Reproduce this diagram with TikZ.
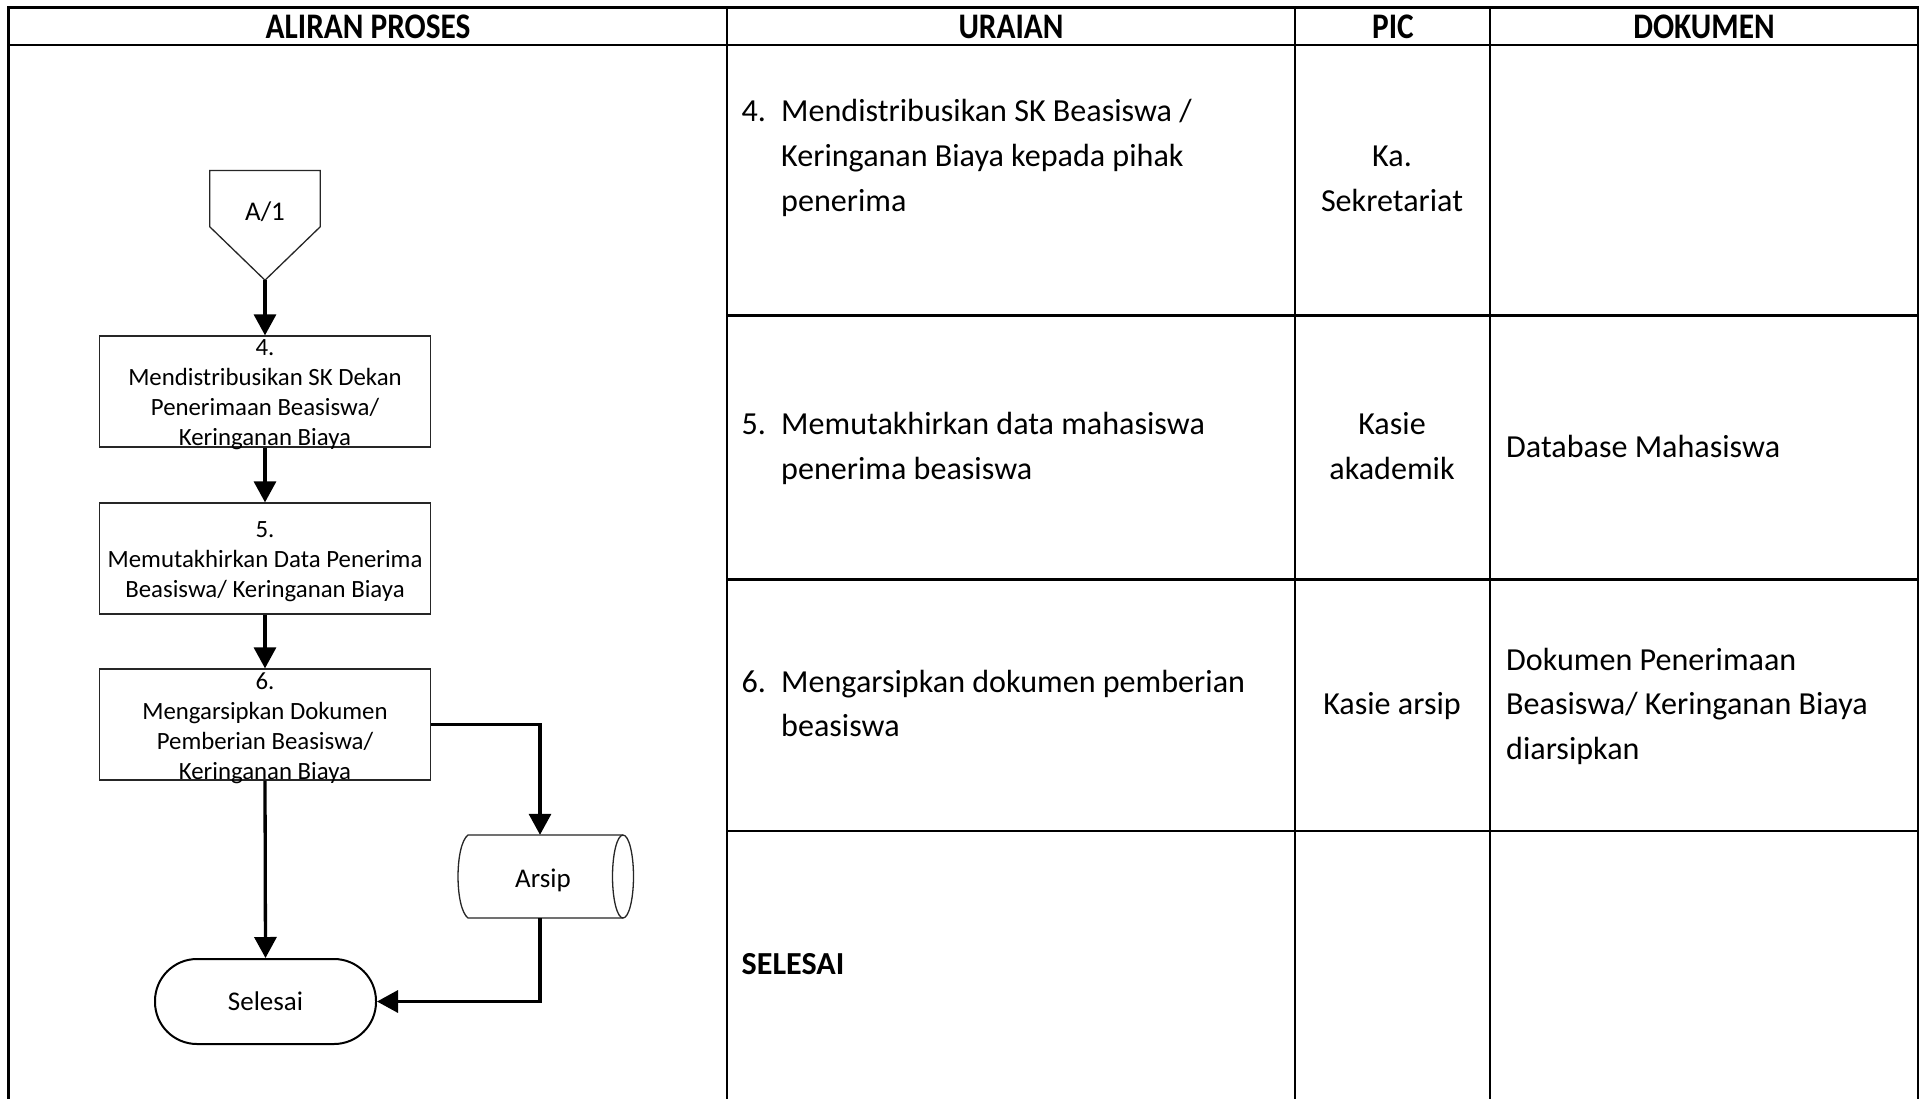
\documentclass[tikz,border=0pt]{standalone}
\usepackage{fontspec}
\setmainfont{Carlito}
\newfontfamily\hdfam{Carlito}[FakeStretch=0.87]
\usetikzlibrary{arrows.meta,calc}
\newcommand\mybody{\fontsize{32.1}{44.5}\selectfont}
\newcommand\myhead{\hdfam\fontsize{36}{40}\selectfont\bfseries}
\newcommand\mybox{\fontsize{24.8}{30}\selectfont}
\newcommand\mysym{\fontsize{27}{32}\selectfont}
\tikzset{
  tbl/.style={line width=2.6pt, line cap=rect},
  hd/.style={font=\myhead, anchor=mid, inner sep=0pt},
  bt/.style={font=\mybody, anchor=mid west, inner sep=0pt},
  bc/.style={font=\mybody, anchor=mid, inner sep=0pt},
  ft/.style={font=\mybox, align=center, inner sep=0pt},
  proc/.style={draw=black!85, line width=1.3pt, minimum width=330.5pt, minimum height=111pt, inner sep=0pt},
  term/.style={draw=black, line width=2pt, rounded corners=42pt, minimum width=221pt, minimum height=85pt, inner sep=0pt, font=\mysym},
  shp/.style={draw=black!85, line width=1.3pt},
  flow/.style={line width=3.3pt, -{Triangle[width=22pt,length=21pt]}},
}
\begin{document}
\begin{tikzpicture}[x=1pt,y=-1pt]
\useasboundingbox (0,0) rectangle (1925,1098);
\fill[white] (0,0) rectangle (1925,1098);

% table
\draw[tbl] (8.5,1098) -- (8.5,7.5) -- (1918,7.5) -- (1918,1098);
\draw[tbl] (8.5,45) -- (1918,45);
\draw[tbl] (727,7.5) -- (727,1098);
\draw[tbl] (1295,7.5) -- (1295,1098);
\draw[tbl] (1490,7.5) -- (1490,1098);
\draw[tbl] (727,315.5) -- (1918,315.5);
\draw[tbl] (727,579.5) -- (1918,579.5);
\draw[tbl] (727,831) -- (1918,831);

% headers
\node[hd] (h1) at (368,36.5) {ALIRAN PROSES};
\node[hd] (h2) at (1011,36.5) {URAIAN};
\node[hd] (h3) at (1393,36.5) {PIC};
\node[hd] (h4) at (1704,36.5) {DOKUMEN};

% row 1
\node[bt] (n4) at (741.5,119) {4.};
\node[bt] (u41) at (781,119) {Mendistribusikan SK Beasiswa /};
\node[bt] (u42) at (781,164.5) {Keringanan Biaya kepada pihak};
\node[bt] (u43) at (781,209.5) {penerima};
\node[bc] (p41) at (1392,164.5) {Ka.};
\node[bc] (p42) at (1392,209.5) {Sekretariat};

% row 2
\node[bt] (n5) at (741.5,432.5) {5.};
\node[bt] (u51) at (781,432.5) {Memutakhirkan data mahasiswa};
\node[bt] (u52) at (781,477) {penerima beasiswa};
\node[bc] (p51) at (1392,432.5) {Kasie};
\node[bc] (p52) at (1392,477) {akademik};
\node[bt] (d51) at (1506,455) {Database Mahasiswa};

% row 3
\node[bt] (n6) at (741.5,690) {6.};
\node[bt] (u61) at (781,690) {Mengarsipkan dokumen pemberian};
\node[bt] (u62) at (781,734.5) {beasiswa};
\node[bc] (p61) at (1392,712.5) {Kasie arsip};
\node[bt] (d61) at (1506,668) {Dokumen Penerimaan};
\node[bt] (d62) at (1506,712.5) {Beasiswa/ Keringanan Biaya};
\node[bt] (d63) at (1506,757) {diarsipkan};

% row 4
\node[bt, font=\mybody\bfseries] (sel) at (741.5,972) {SELESAI};

% flowchart
\node[inner sep=0pt, minimum width=110pt, minimum height=109.4pt] (a1) at (265,225.3) {};
\draw[shp] (a1.north west) -- (a1.north east) -- ($(a1.north east)+(0,56.4)$) -- (a1.south) -- ($(a1.north west)+(0,56.4)$) -- cycle;
\node[font=\mysym, inner sep=0pt, anchor=mid] (a1t) at (265,218) {A/1};

\node[proc] (b4) at (265,391.5) {};
\node[ft] (b4t) at (265,395) {4.\\Mendistribusikan SK Dekan\\Penerimaan Beasiswa/\\Keringanan Biaya};
\node[proc] (b5) at (265,558.5) {};
\node[ft] (b5t) at (265,562) {5.\\Memutakhirkan Data Penerima\\Beasiswa/ Keringanan Biaya};
\node[proc] (b6) at (265,724.5) {};
\node[ft] (b6t) at (265,728) {6.\\Mengarsipkan Dokumen\\Pemberian Beasiswa/\\Keringanan Biaya};

\node[inner sep=0pt, minimum width=160pt, minimum height=83pt] (ar) at (540,876.5) {};
\draw[shp] (623,835) -- (468,835) .. controls (454.7,845) and (454.7,908) .. (468,918) -- (623,918);
\draw[shp] (623,876.5) ellipse [x radius=10.5, y radius=41.5];
\node[font=\mysym, inner sep=0pt, anchor=mid] (art) at (543,885) {Arsip};

\node[term] (end) at (265.5,1001.5) {Selesai};

\draw[flow] (a1.south) -- (b4.north);
\draw[flow] (b4.south) -- (b5.north);
\draw[flow] (b5.south) -- (b6.north);
\draw[flow] (b6.south) -- (end.north);
\draw[flow] (b6.east) -| (ar.north);
\draw[flow] (ar.south) |- (end.east);
\end{tikzpicture}
\end{document}
